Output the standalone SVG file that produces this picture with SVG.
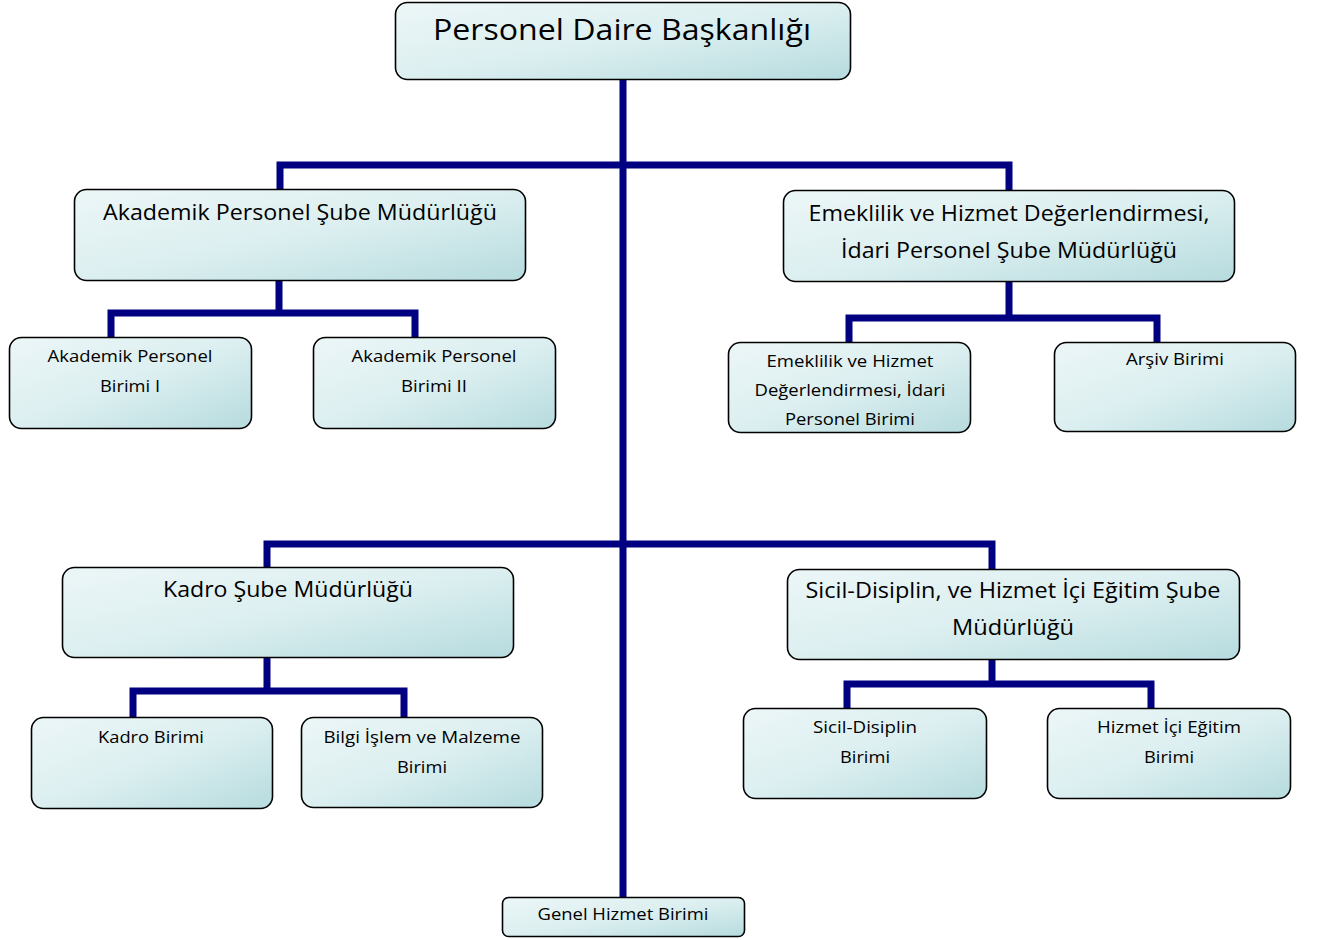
<svg xmlns="http://www.w3.org/2000/svg" width="1320" height="940" viewBox="0 0 1320 940">
<defs>
<linearGradient id="g" x1="0" y1="0" x2="1" y2="1">
<stop offset="0" stop-color="#ecf6f7"/>
<stop offset="0.5" stop-color="#dcefF0"/>
<stop offset="1" stop-color="#b6dbde"/>
</linearGradient>
<style>
.box{fill:url(#g);stroke:#000;stroke-width:1.6}
.t{font-family:"Open Sans","Noto Sans",sans-serif;fill:#000;text-anchor:middle}
.h{font-size:30px}
.m{font-size:21px}
.s{font-size:16.5px}
.c{fill:none;stroke:#000080;stroke-width:7;stroke-linejoin:miter}
</style>
</defs>
<rect width="1320" height="940" fill="#fff"/>
<g id="connectors">
<path class="c" d="M623 79 V897"/>
<path class="c" d="M280 189 V165 H1009 V190"/>
<path class="c" d="M279 280 V313 M111 337 V313 H415 V337"/>
<path class="c" d="M1009 281 V318 M849 342 V318 H1157 V342"/>
<path class="c" d="M267 567 V544 H992 V569"/>
<path class="c" d="M267 658 V691 M133 717 V691 H404 V717"/>
<path class="c" d="M992 660 V684 M847 708 V684 H1151 V708"/>
</g>
<g id="n-root">
<rect class="box" x="395.5" y="2.5" width="455" height="77" rx="12"/>
<text class="t h" x="622" y="40" textLength="378" lengthAdjust="spacingAndGlyphs">Personel Daire Başkanlığı</text>
</g>
<g id="n-akademik">
<rect class="box" x="74.5" y="189.5" width="451" height="91" rx="12"/>
<text class="t m" x="300" y="220" textLength="394" lengthAdjust="spacingAndGlyphs">Akademik Personel Şube Müdürlüğü</text>
</g>
<g id="n-emeklilik">
<rect class="box" x="783.5" y="190.5" width="451" height="91" rx="12"/>
<text class="t m" x="1009" y="221" textLength="401" lengthAdjust="spacingAndGlyphs">Emeklilik ve Hizmet Değerlendirmesi,</text>
<text class="t m" x="1009" y="258" textLength="336" lengthAdjust="spacingAndGlyphs">İdari Personel Şube Müdürlüğü</text>
</g>
<g id="n-ak1">
<rect class="box" x="9.5" y="337.5" width="242" height="91" rx="12"/>
<text class="t s" x="130" y="362" textLength="165" lengthAdjust="spacingAndGlyphs">Akademik Personel</text>
<text class="t s" x="130" y="392" textLength="60" lengthAdjust="spacingAndGlyphs">Birimi I</text>
</g>
<g id="n-ak2">
<rect class="box" x="313.5" y="337.5" width="242" height="91" rx="12"/>
<text class="t s" x="434" y="362" textLength="165" lengthAdjust="spacingAndGlyphs">Akademik Personel</text>
<text class="t s" x="434" y="392" textLength="66" lengthAdjust="spacingAndGlyphs">Birimi II</text>
</g>
<g id="n-emb">
<rect class="box" x="728.5" y="342.5" width="242" height="90" rx="12"/>
<text class="t s" x="850" y="367" textLength="167" lengthAdjust="spacingAndGlyphs">Emeklilik ve Hizmet</text>
<text class="t s" x="850" y="396" textLength="191" lengthAdjust="spacingAndGlyphs">Değerlendirmesi, İdari</text>
<text class="t s" x="850" y="425" textLength="130" lengthAdjust="spacingAndGlyphs">Personel Birimi</text>
</g>
<g id="n-arsiv">
<rect class="box" x="1054.5" y="342.5" width="241" height="89" rx="12"/>
<text class="t s" x="1175" y="365" textLength="98" lengthAdjust="spacingAndGlyphs">Arşiv Birimi</text>
</g>
<g id="n-kadro">
<rect class="box" x="62.5" y="567.5" width="451" height="90" rx="12"/>
<text class="t m" x="288" y="597" textLength="250" lengthAdjust="spacingAndGlyphs">Kadro Şube Müdürlüğü</text>
</g>
<g id="n-sicil">
<rect class="box" x="787.5" y="569.5" width="452" height="90" rx="12"/>
<text class="t m" x="1013" y="598" textLength="415" lengthAdjust="spacingAndGlyphs">Sicil-Disiplin, ve Hizmet İçi Eğitim Şube</text>
<text class="t m" x="1013" y="635" textLength="122" lengthAdjust="spacingAndGlyphs">Müdürlüğü</text>
</g>
<g id="n-kb">
<rect class="box" x="31.5" y="717.5" width="241" height="91" rx="12"/>
<text class="t s" x="151" y="743" textLength="106" lengthAdjust="spacingAndGlyphs">Kadro Birimi</text>
</g>
<g id="n-bilgi">
<rect class="box" x="301.5" y="717.5" width="241" height="90" rx="12"/>
<text class="t s" x="422" y="743" textLength="197" lengthAdjust="spacingAndGlyphs">Bilgi İşlem ve Malzeme</text>
<text class="t s" x="422" y="773" textLength="50" lengthAdjust="spacingAndGlyphs">Birimi</text>
</g>
<g id="n-sd">
<rect class="box" x="743.5" y="708.5" width="243" height="90" rx="12"/>
<text class="t s" x="865" y="733" textLength="104" lengthAdjust="spacingAndGlyphs">Sicil-Disiplin</text>
<text class="t s" x="865" y="763" textLength="50" lengthAdjust="spacingAndGlyphs">Birimi</text>
</g>
<g id="n-hie">
<rect class="box" x="1047.5" y="708.5" width="243" height="90" rx="12"/>
<text class="t s" x="1169" y="733" textLength="144" lengthAdjust="spacingAndGlyphs">Hizmet İçi Eğitim</text>
<text class="t s" x="1169" y="763" textLength="50" lengthAdjust="spacingAndGlyphs">Birimi</text>
</g>
<g id="n-genel">
<rect class="box" x="502.5" y="897.5" width="242" height="39" rx="6"/>
<text class="t s" x="623" y="920" textLength="171" lengthAdjust="spacingAndGlyphs">Genel Hizmet Birimi</text>
</g>
</svg>
